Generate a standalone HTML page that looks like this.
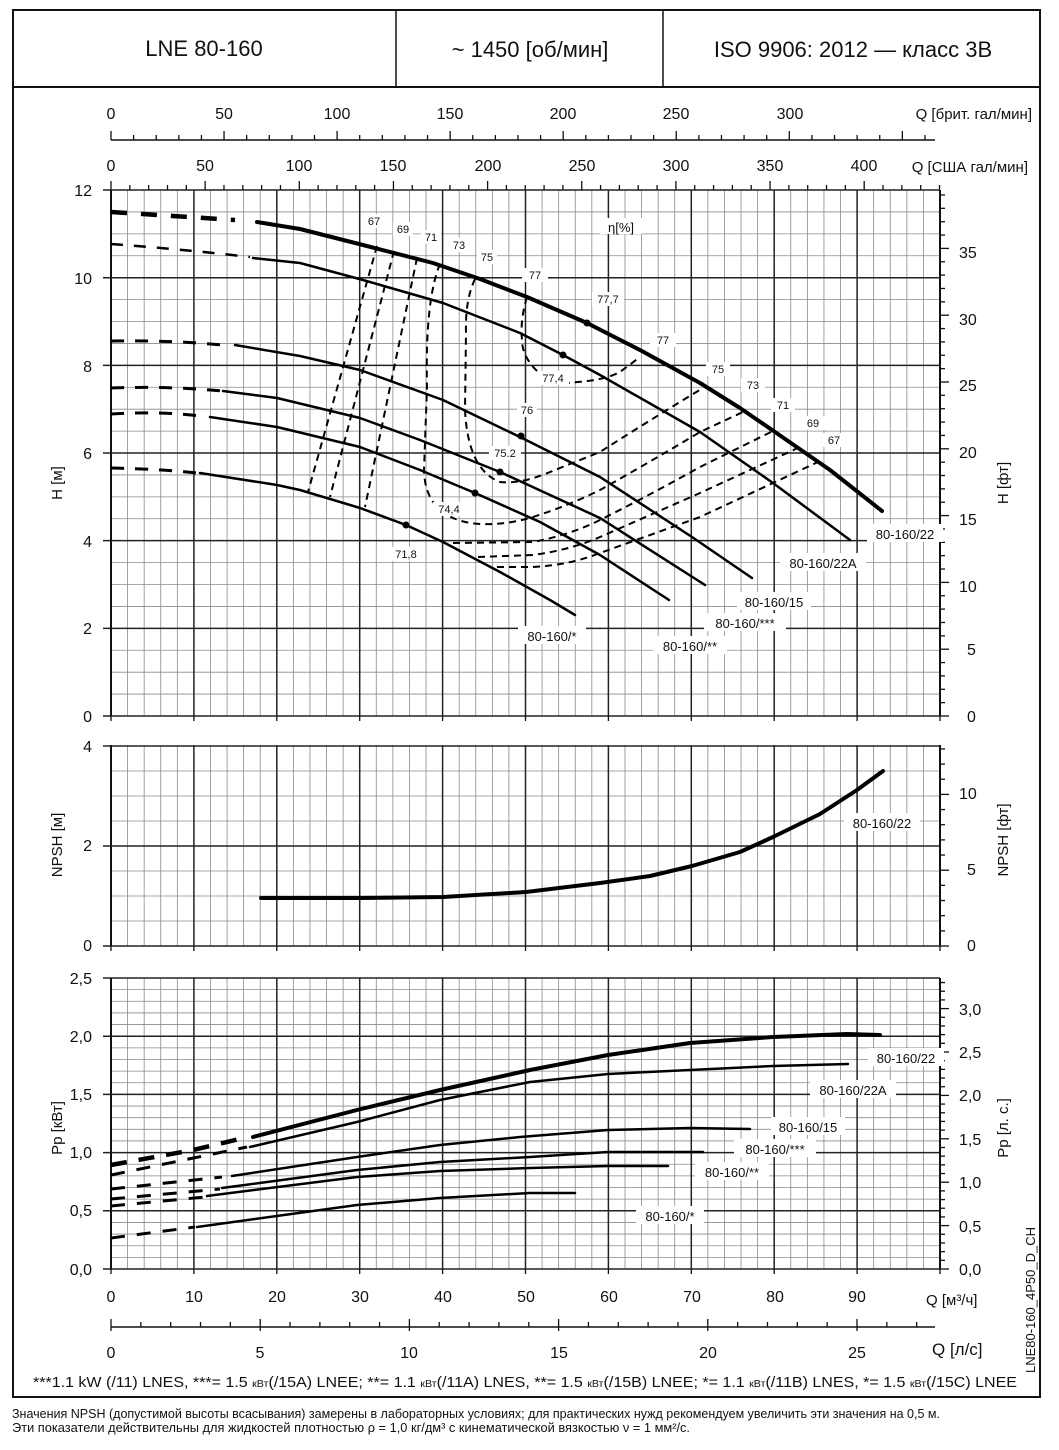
<!DOCTYPE html>
<html><head><meta charset="utf-8"><style>
html,body{margin:0;padding:0;background:#fff;}
svg{display:block;}
text{font-family:"Liberation Sans","DejaVu Sans",sans-serif;fill:#111;}
.ax{font-size:16px;}
.sm{font-size:11px;}
.cl{font-size:13px;}
</style></head><body>
<svg id="s" width="1059" height="1450" viewBox="0 0 1059 1450" xmlns="http://www.w3.org/2000/svg">
<rect x="0" y="0" width="1059" height="1450" fill="#fff"/>
<g id="grid"></g>
<g id="ticks" stroke="#111" stroke-width="1.3" fill="none"></g>
<!-- frame -->
<rect x="13" y="10" width="1027" height="1387" fill="none" stroke="#111" stroke-width="2"/>
<line x1="13" y1="87" x2="1040" y2="87" stroke="#111" stroke-width="2"/>
<line x1="396" y1="10" x2="396" y2="87" stroke="#111" stroke-width="1.5"/>
<line x1="663" y1="10" x2="663" y2="87" stroke="#111" stroke-width="1.5"/>
<text x="204" y="56" font-size="22" text-anchor="middle">LNE 80-160</text>
<text x="530" y="57" font-size="22" text-anchor="middle">~ 1450 [об/мин]</text>
<text x="853" y="57" font-size="22" text-anchor="middle">ISO 9906: 2012 — класс 3В</text>

<!-- curves H -->
<g fill="none" stroke="#000" stroke-linecap="round" stroke-linejoin="round">
<path d="M111,212 L235,220" stroke-width="4.5" stroke-dasharray="16,14" stroke-linecap="butt"/>
<polyline stroke-width="4" points="257,222 300,229 363,245 433,263 480,279 527,297 587,323 640,350 700,383 740,408 775,432 830,470 882,511"/>
<path d="M111,244 Q180,249 250,257" stroke-width="2.5" stroke-dasharray="12,11" stroke-linecap="butt"/>
<polyline stroke-width="2.5" points="253,258 300,263 363,280 443,303 520,333 563,355 600,375 700,432 773,483 850,540"/>
<path d="M111,341 Q170,340 222,345" stroke-width="3" stroke-dasharray="13,11" stroke-linecap="butt"/>
<polyline stroke-width="2.5" points="235,345 300,356 360,370 443,400 520,437 600,477 692,537 752,578"/>
<path d="M111,388 Q170,386 222,391" stroke-width="3" stroke-dasharray="13,11" stroke-linecap="butt"/>
<polyline stroke-width="2.5" points="223,391 277,398 360,418 420,440 500,472 600,518 705,585"/>
<path d="M111,414 Q160,411 200,416" stroke-width="3" stroke-dasharray="13,11" stroke-linecap="butt"/>
<polyline stroke-width="2.5" points="210,417 277,427 360,447 420,470 475,493 540,522 600,555 669,600"/>
<path d="M111,468 Q160,469 197,473" stroke-width="3" stroke-dasharray="13,11" stroke-linecap="butt"/>
<polyline stroke-width="2.5" points="200,473 277,485 300,490 360,508 406,525 443,542 500,572 550,600 575,615"/>
</g>
<g fill="#000">
<circle cx="587" cy="323" r="3.5"/><circle cx="563" cy="355" r="3.5"/><circle cx="521" cy="436" r="3.5"/>
<circle cx="500" cy="472" r="3.5"/><circle cx="475" cy="493" r="3.5"/><circle cx="406" cy="525" r="3.5"/>
</g>
<!-- efficiency contours -->
<g fill="none" stroke="#000" stroke-width="2" stroke-dasharray="7,5">
<path d="M377,246 L308,492"/>
<path d="M394,251 L330,497"/>
<path d="M417,258 L365,507"/>
<path d="M440,264 Q425,300 427,387 L424,470 Q425,515 470,523 Q500,527 533,517 Q570,505 600,490 Q650,462 700,432 L743,412"/>
<path d="M475,279 Q465,300 466,333 L465,410 Q468,470 500,482 Q520,484 545,474 L600,452 Q650,420 703,388"/>
<path d="M527,297 Q520,320 522,340 Q522,360 545,378 Q560,385 577,382 Q605,380 620,372 L640,357"/>
<path d="M453,543 L533,542 Q570,535 600,520 Q650,495 700,467 L775,430"/>
<path d="M478,557 L533,555 Q570,550 600,537 Q650,515 700,493 L800,447"/>
<path d="M497,567 L533,567 Q570,565 600,553 Q650,535 700,517 L818,462"/>
</g>
<!-- eff labels -->
<g class="sm" text-anchor="middle">
<rect x="364" y="214" width="20" height="14" fill="#fff"/><text x="374" y="225">67</text>
<rect x="393" y="222" width="20" height="14" fill="#fff"/><text x="403" y="233">69</text>
<rect x="421" y="230" width="20" height="14" fill="#fff"/><text x="431" y="241">71</text>
<rect x="449" y="238" width="20" height="14" fill="#fff"/><text x="459" y="249">73</text>
<rect x="477" y="250" width="20" height="14" fill="#fff"/><text x="487" y="261">75</text>
<rect x="522" y="268" width="26" height="14" fill="#fff"/><text x="535" y="279">77</text>
<rect x="592" y="292" width="32" height="14" fill="#fff"/><text x="608" y="303">77,7</text>
<rect x="537" y="371" width="32" height="14" fill="#fff"/><text x="553" y="382">77,4</text>
<rect x="517" y="403" width="20" height="14" fill="#fff"/><text x="527" y="414">76</text>
<rect x="489" y="446" width="32" height="14" fill="#fff"/><text x="505" y="457">75.2</text>
<rect x="433" y="502" width="32" height="14" fill="#fff"/><text x="449" y="513">74,4</text>
<rect x="390" y="547" width="32" height="14" fill="#fff"/><text x="406" y="558">71,8</text>
<rect x="650" y="333" width="26" height="14" fill="#fff"/><text x="663" y="344">77</text>
<rect x="706" y="362" width="24" height="14" fill="#fff"/><text x="718" y="373">75</text>
<rect x="741" y="378" width="24" height="14" fill="#fff"/><text x="753" y="389">73</text>
<rect x="771" y="398" width="24" height="14" fill="#fff"/><text x="783" y="409">71</text>
<rect x="801" y="416" width="24" height="14" fill="#fff"/><text x="813" y="427">69</text>
<rect x="822" y="433" width="24" height="14" fill="#fff"/><text x="834" y="444">67</text>
<rect x="600" y="218" width="42" height="16" fill="#fff"/><text x="621" y="232" font-size="13">η[%]</text>
</g>
<g class="cl" text-anchor="middle">
<rect x="867" y="524" width="76" height="18" fill="#fff"/><text x="905" y="539">80-160/22</text>
<rect x="780" y="553" width="86" height="18" fill="#fff"/><text x="823" y="568">80-160/22A</text>
<rect x="737" y="592" width="74" height="18" fill="#fff"/><text x="774" y="607">80-160/15</text>
<rect x="704" y="613" width="82" height="18" fill="#fff"/><text x="745" y="628">80-160/***</text>
<rect x="653" y="636" width="74" height="18" fill="#fff"/><text x="690" y="651">80-160/**</text>
<rect x="518" y="626" width="68" height="18" fill="#fff"/><text x="552" y="641">80-160/*</text>
</g>

<!-- NPSH curve -->
<polyline fill="none" stroke="#000" stroke-width="4" stroke-linecap="round" stroke-linejoin="round" points="261,898 360,898 443,897 526,892 600,883 650,876 692,866 740,852 773,837 820,814 857,790 883,771"/>
<rect x="844" y="813" width="76" height="18" fill="#fff"/><text class="cl" x="882" y="828" text-anchor="middle">80-160/22</text>

<!-- Power curves -->
<g fill="none" stroke="#000" stroke-linecap="round" stroke-linejoin="round">
<path d="M111,1165 L193,1150 L248,1137" stroke-width="4.5" stroke-dasharray="16,12" stroke-linecap="butt"/>
<polyline stroke-width="4" points="253,1137 357,1110 440,1090 530,1070 608,1055 690,1043 773,1037 847,1034 880,1035"/>
<path d="M111,1175 L247,1147" stroke-width="3" stroke-dasharray="14,12" stroke-linecap="butt"/>
<polyline stroke-width="2.5" points="250,1147 357,1122 440,1100 530,1082 608,1074 690,1070 773,1066 848,1064"/>
<path d="M111,1189 L222,1177" stroke-width="3" stroke-dasharray="14,12" stroke-linecap="butt"/>
<polyline stroke-width="2.5" points="232,1176 357,1157 440,1145 520,1137 608,1130 690,1128 750,1129"/>
<path d="M111,1199 L220,1189" stroke-width="3" stroke-dasharray="14,12" stroke-linecap="butt"/>
<polyline stroke-width="2.5" points="222,1188 357,1170 440,1162 530,1157 608,1152 703,1152"/>
<path d="M111,1206 L205,1197" stroke-width="3" stroke-dasharray="14,12" stroke-linecap="butt"/>
<polyline stroke-width="2.5" points="207,1196 357,1177 440,1171 530,1168 608,1166 668,1166"/>
<path d="M111,1238 L195,1227" stroke-width="3" stroke-dasharray="14,12" stroke-linecap="butt"/>
<polyline stroke-width="2.5" points="197,1227 357,1205 440,1198 530,1193 575,1193"/>
</g>
<g class="cl" text-anchor="middle">
<rect x="868" y="1048" width="76" height="18" fill="#fff"/><text x="906" y="1063">80-160/22</text>
<rect x="810" y="1080" width="86" height="18" fill="#fff"/><text x="853" y="1095">80-160/22A</text>
<rect x="771" y="1117" width="74" height="18" fill="#fff"/><text x="808" y="1132">80-160/15</text>
<rect x="734" y="1139" width="82" height="18" fill="#fff"/><text x="775" y="1154">80-160/***</text>
<rect x="695" y="1162" width="74" height="18" fill="#fff"/><text x="732" y="1177">80-160/**</text>
<rect x="636" y="1206" width="68" height="18" fill="#fff"/><text x="670" y="1221">80-160/*</text>
</g>

<!-- axis texts -->
<g class="ax" text-anchor="middle">
<text x="111" y="119">0</text><text x="224" y="119">50</text><text x="337" y="119">100</text><text x="450" y="119">150</text><text x="563" y="119">200</text><text x="676" y="119">250</text><text x="790" y="119">300</text>
<text x="111" y="171">0</text><text x="205" y="171">50</text><text x="299" y="171">100</text><text x="393" y="171">150</text><text x="488" y="171">200</text><text x="582" y="171">250</text><text x="676" y="171">300</text><text x="770" y="171">350</text><text x="864" y="171">400</text>
</g>
<text x="1032" y="119" font-size="15" text-anchor="end">Q [брит. гал/мин]</text>
<text x="1028" y="172" font-size="15" text-anchor="end">Q [США гал/мин]</text>
<g class="ax" text-anchor="end">
<text x="92" y="196">12</text><text x="92" y="284">10</text><text x="92" y="372">8</text><text x="92" y="459">6</text><text x="92" y="547">4</text><text x="92" y="634">2</text><text x="92" y="722">0</text>
<text x="92" y="752">4</text><text x="92" y="851">2</text><text x="92" y="951">0</text>
<text x="92" y="984">2,5</text><text x="92" y="1042">2,0</text><text x="92" y="1100">1,5</text><text x="92" y="1158">1,0</text><text x="92" y="1216">0,5</text><text x="92" y="1275">0,0</text>
</g>
<g class="ax" text-anchor="start">
<text x="959" y="258">35</text><text x="959" y="325">30</text><text x="959" y="391">25</text><text x="959" y="458">20</text><text x="959" y="525">15</text><text x="959" y="592">10</text><text x="967" y="655">5</text><text x="967" y="722">0</text>
<text x="959" y="799">10</text><text x="967" y="875">5</text><text x="967" y="951">0</text>
<text x="959" y="1015">3,0</text><text x="959" y="1101">2,0</text><text x="959" y="1058">2,5</text><text x="959" y="1145">1,5</text><text x="959" y="1188">1,0</text><text x="959" y="1232">0,5</text><text x="959" y="1275">0,0</text>
</g>
<g class="ax" text-anchor="middle">
<text x="111" y="1302">0</text><text x="194" y="1302">10</text><text x="277" y="1302">20</text><text x="360" y="1302">30</text><text x="443" y="1302">40</text><text x="526" y="1302">50</text><text x="609" y="1302">60</text><text x="692" y="1302">70</text><text x="775" y="1302">80</text><text x="857" y="1302">90</text>
<text x="111" y="1358">0</text><text x="260" y="1358">5</text><text x="409" y="1358">10</text><text x="559" y="1358">15</text><text x="708" y="1358">20</text><text x="857" y="1358">25</text>
</g>
<text x="926" y="1305" font-size="15">Q [м³/ч]</text>
<text x="932" y="1355" font-size="17">Q [л/с]</text>
<g font-size="15" text-anchor="middle">
<text transform="translate(62,483) rotate(-90)">H [м]</text>
<text transform="translate(62,845) rotate(-90)">NPSH [м]</text>
<text transform="translate(62,1128) rotate(-90)">Pp [кВт]</text>
<text transform="translate(1008,483) rotate(-90)">H [фт]</text>
<text transform="translate(1008,840) rotate(-90)">NPSH [фт]</text>
<text transform="translate(1008,1128) rotate(-90)">Pp [л. с.]</text>
<text transform="translate(1035,1300) rotate(-90)" font-size="13">LNE80-160_4P50_D_CH</text>
</g>
<text x="33" y="1387" font-size="15" textLength="984" lengthAdjust="spacingAndGlyphs">***1.1 kW (/11) LNES, ***= 1.5 <tspan font-size="10">кВт</tspan>(/15A) LNEE; **= 1.1 <tspan font-size="10">кВт</tspan>(/11A) LNES, **= 1.5 <tspan font-size="10">кВт</tspan>(/15B) LNEE; *= 1.1 <tspan font-size="10">кВт</tspan>(/11B) LNES, *= 1.5 <tspan font-size="10">кВт</tspan>(/15C) LNEE</text>
<text x="12" y="1418" font-size="12.5" textLength="928" lengthAdjust="spacingAndGlyphs">Значения NPSH (допустимой высоты всасывания) замерены в лабораторных условиях; для практических нужд рекомендуем увеличить эти значения на 0,5 м.</text>
<text x="12" y="1432" font-size="12.5" textLength="678" lengthAdjust="spacingAndGlyphs">Эти показатели действительны для жидкостей плотностью ρ = 1,0 кг/дм³ с кинематической вязкостью ν = 1 мм²/с.</text>
</svg>
<script>
(function(){
var NS="http://www.w3.org/2000/svg";
var G=document.getElementById("grid"),T=document.getElementById("ticks");
function L(g,x1,y1,x2,y2,w,c){var l=document.createElementNS(NS,"line");l.setAttribute("x1",x1);l.setAttribute("y1",y1);l.setAttribute("x2",x2);l.setAttribute("y2",y2);l.setAttribute("stroke",c);l.setAttribute("stroke-width",w);g.appendChild(l);}
var X0=111,X1=940,px=8.29;
function panel(top,bot,step,majEvery){
 var n=Math.round((bot-top)/step);
 for(var i=0;i<=n;i++){var y=bot-i*step;var maj=(i%majEvery==0);if(!maj)L(G,X0,y,X1,y,0.8,"#8a8a8a");}
 for(var q=2;q<100;q+=2){var x=X0+q*px;if(q%10)L(G,x,top,x,bot,0.8,"#8a8a8a");}
 for(var q=10;q<100;q+=10){L(G,X0+q*px,top,X0+q*px,bot,1.5,"#222");}
 for(var i=0;i<=n;i+=majEvery){var y=bot-i*step;L(G,X0-8,y,X1,y,1.5,"#222");}
 L(G,X0,top,X0,bot,2,"#111");L(G,X1,top,X1,bot,2,"#111");
 for(var q=0;q<=100;q+=10)L(T,X0+q*px,bot,X0+q*px,bot+5,1.3,"#111");
}
panel(190,716,43.83/2,4);
panel(745,946,25,4);
panel(978,1269,11.64,5);
L(T,111,140,935,140,1.5,"#111");
for(var k=0;k<=36;k++){var x=111+22.61*k;L(T,x,140,x,140-(k%5?5:9),1.3,"#111");}
for(var k=0;k<=44;k++){var x=111+18.83*k;L(T,x,190,x,190-(k%5?5:9),1.3,"#111");}
for(var k=0;k<=39;k++){var y=716-13.36*k;L(T,940,y,940+(k%5?5:9),y,1.3,"#111");}
for(var k=0;k<=13;k++){var y=946-15.16*k;L(T,940,y,940+(k%5?5:9),y,1.3,"#111");}
for(var k=0;k<=33;k++){var y=1269-8.68*k;L(T,940,y,940+(k%5?5:9),y,1.3,"#111");}
L(T,111,1327,935,1327,1.5,"#111");
for(var k=0;k<=27;k++){var x=111+29.84*k;L(T,x,(k%5?1322:1319),x,(k%5?1327:1331),1.3,"#111");}
})();
</script>
</body></html>
